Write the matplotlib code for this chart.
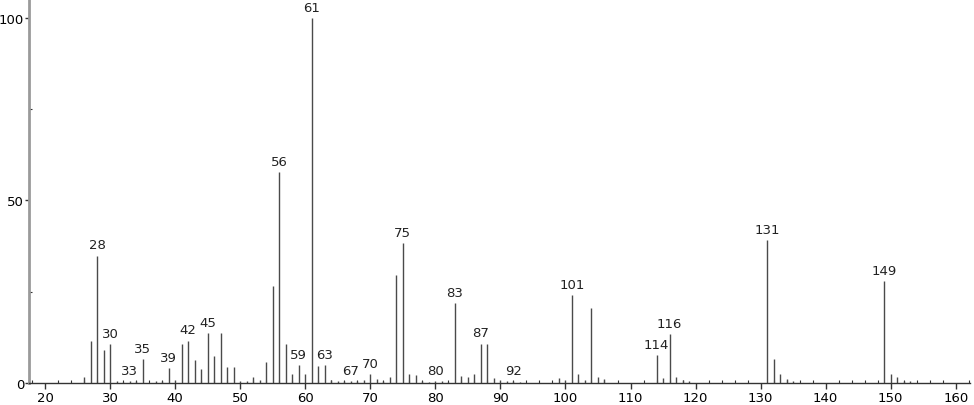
import numpy as np
import matplotlib
matplotlib.use('Agg')
import matplotlib.pyplot as plt
from matplotlib.ticker import MultipleLocator

# m/z and relative intensity
mz = [26, 27, 28, 29, 30, 31, 32, 33, 34, 35, 37, 38, 39, 40, 41, 42, 43, 44, 45, 46,
      47, 48, 49, 50, 51, 52, 53, 54, 55, 56, 57, 58, 59, 60, 61, 62, 63, 64, 65, 66,
      67, 68, 69, 70, 71, 72, 73, 74, 75, 76, 77, 78, 79, 80, 81, 82, 83, 84, 85, 86,
      87, 88, 89, 90, 91, 92, 93, 99, 100, 101, 102, 103, 104, 105, 106,
      114, 115, 116, 117, 118, 119, 131, 132, 133, 134, 135, 149, 150, 151, 152, 153]
inten = [1.6, 11.6, 34.9, 9.1, 10.7, 0.6, 0.3, 0.5, 0.6, 6.6, 0.5, 0.6, 4.1, 0.8, 10.7, 11.6, 6.4, 3.8, 13.6, 7.5,
         13.6, 4.3, 4.3, 0.5, 0.5, 1.7, 0.9, 5.8, 26.7, 57.7, 10.7, 2.5, 4.9, 2.5, 100, 4.6, 4.8, 0.7, 0.6, 0.5,
         0.5, 0.5, 0.7, 2.4, 1.1, 0.5, 1.6, 29.6, 38.4, 2.5, 2.3, 0.6, 0.4, 0.6, 0.5, 0.4, 22.0, 1.8, 1.6, 2.6,
         10.8, 10.8, 1.3, 0.8, 0.5, 0.5, 0.4, 1.5, 0.8, 24.0, 2.6, 0.8, 20.6, 1.6, 1.1,
         7.6, 1.5, 13.5, 1.6, 0.9, 0.6, 39.2, 6.7, 2.5, 1.2, 0.6, 27.9, 2.5, 1.6, 0.6, 0.5]
labelled = [28, 30, 33, 35, 39, 42, 45, 56, 59, 61, 63, 67, 70, 75, 80, 83, 87, 92,
            101, 114, 116, 131, 149]

fig = plt.figure(figsize=(9.74, 4.06), dpi=100)
ax = fig.add_axes([0.0298, 0.0542, 0.9662, 0.9458])

ax.vlines(mz, 0, inten, color='#4a4a4a', lw=1.0)

peak = dict(zip(mz, inten))
for m in labelled:
    ax.annotate(str(m), (m, peak[m]), xytext=(0, 3), textcoords='offset points',
                ha='center', va='bottom', fontsize=9.5, color='#222222')

ax.set_xlim(17.54, 162.2)
ax.set_ylim(0, 105.2)
ax.xaxis.set_major_locator(MultipleLocator(10))
ax.xaxis.set_minor_locator(MultipleLocator(2))
ax.yaxis.set_major_locator(MultipleLocator(50))
ax.yaxis.set_minor_locator(MultipleLocator(25))

for s in ['top', 'right']:
    ax.spines[s].set_visible(False)
ax.spines['left'].set_color('#9a9a9a')
ax.spines['left'].set_linewidth(2)
ax.spines['bottom'].set_color('#333333')
ax.spines['bottom'].set_linewidth(1)

ax.tick_params(axis='x', which='major', direction='out', length=4, width=1, color='#333333',
               labelsize=9.5, pad=2)
ax.tick_params(axis='x', which='minor', direction='in', length=2, width=0.8, color='#333333')
ax.tick_params(axis='y', which='major', direction='out', length=3, width=1, color='#333333',
               labelsize=9.5, pad=0.5)
ax.tick_params(axis='y', which='minor', direction='in', length=2, width=0.8, color='#333333')

fig.savefig('out.png', dpi=100)
